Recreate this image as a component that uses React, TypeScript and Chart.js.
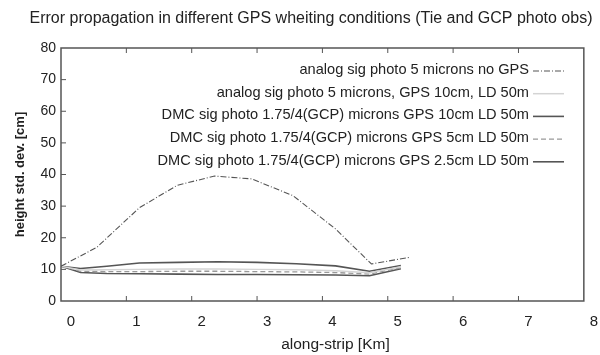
import React, { useEffect, useRef } from "react";
import { Chart, registerables } from "chart.js";

Chart.register(...registerables);

const TITLE = "Error propagation in different GPS wheiting conditions (Tie and GCP photo obs)";
const X_TITLE = "along-strip [Km]";
const Y_TITLE = "height std. dev. [cm]";

const X_MIN = 0;
const X_MAX = 8;
const Y_MIN = 0;
const Y_MAX = 80;

const LABELS = [
  "analog sig photo 5 microns no GPS",
  "analog sig photo 5 microns, GPS 10cm, LD 50m",
  "DMC sig photo 1.75/4(GCP) microns GPS 10cm LD 50m",
  "DMC sig photo 1.75/4(GCP) microns GPS 5cm LD 50m",
  "DMC sig photo 1.75/4(GCP) microns GPS 2.5cm LD 50m",
];

const mainX = [0, 0.55, 1.2, 1.78, 2.35, 2.92, 3.55, 4.2, 4.75, 5.33];
const noGps = [11, 17, 29.5, 36.6, 39.5, 38.6, 33.3, 22.8, 11.7, 13.8];

const lowX = [0, 0.3, 0.7, 1.2, 1.8, 2.4, 3.0, 3.6, 4.2, 4.72, 5.2];
const analogGps10 = [11, 9.8, 9.9, 10.0, 10.1, 10.1, 10.0, 9.9, 9.6, 8.9, 10.8];
const dmcGps10 = [11, 10.3, 11.0, 12.0, 12.2, 12.4, 12.2, 11.8, 11.1, 9.4, 11.2];
const dmcGps5 = [11, 9.4, 9.3, 9.3, 9.4, 9.4, 9.3, 9.2, 9.0, 8.5, 10.5];
const dmcGps25 = [11, 9.0, 8.7, 8.6, 8.5, 8.4, 8.4, 8.3, 8.2, 8.0, 10.2];

const FONT = '"Liberation Sans", Arial, sans-serif';

const pts = (xs: number[], ys: number[]) => xs.map((x, i) => ({ x, y: ys[i] }));

const decor = {
  id: "decor",
  afterDraw(chart: any) {
    const { ctx, chartArea: a, scales } = chart;
    const xs = scales.x;
    const ys = scales.y;
    ctx.save();
    const line = (x1: number, y1: number, x2: number, y2: number) => {
      ctx.beginPath();
      ctx.moveTo(x1, y1);
      ctx.lineTo(x2, y2);
      ctx.stroke();
    };
    ctx.strokeStyle = "#555";
    ctx.lineWidth = 1.5;
    ctx.setLineDash([]);
    ctx.strokeRect(a.left, a.top, a.right - a.left, a.bottom - a.top);
    ctx.lineWidth = 1;
    xs.ticks.forEach((_t: any, i: number) => {
      if (i === 0 || i === xs.ticks.length - 1) return;
      const px = xs.getPixelForTick(i);
      line(px, a.bottom, px, a.bottom - 5);
      line(px, a.top, px, a.top + 5);
    });
    ys.ticks.forEach((_t: any, i: number) => {
      if (i === 0 || i === ys.ticks.length - 1) return;
      const py = ys.getPixelForTick(i);
      line(a.left, py, a.left + 5, py);
    });

    ctx.fillStyle = "#222";
    ctx.textBaseline = "middle";
    ctx.textAlign = "center";
    ctx.font = `16px ${FONT}`;
    ctx.fillText(TITLE, 311, 19);
    ctx.font = `15.5px ${FONT}`;
    ctx.fillText(X_TITLE, xs.getPixelForValue(4) + 13, 345);

    ctx.textAlign = "right";
    ctx.font = `14.6px ${FONT}`;
    chart.data.datasets.forEach((ds: any, i: number) => {
      const y = 70 + i * 22.7;
      ctx.fillStyle = "#222";
      ctx.fillText(ds.label, 529, y);
      ctx.strokeStyle = ds.borderColor;
      ctx.lineWidth = ds.borderWidth;
      ctx.setLineDash(ds.borderDash || []);
      line(533, y + 1, 564, y + 1);
    });
    ctx.restore();
  },
};

export default function App() {
  const ref = useRef<HTMLCanvasElement | null>(null);
  useEffect(() => {
    document.body.style.margin = "0";
    const canvas = ref.current;
    if (!canvas) return;
    const chart = new Chart(canvas, {
      type: "line",
      data: {
        datasets: [
          {
            label: LABELS[0],
            data: pts(mainX, noGps),
            borderColor: "#555",
            borderWidth: 1.1,
            borderDash: [6, 2, 1, 2],
          },
          {
            label: LABELS[1],
            data: pts(lowX, analogGps10),
            borderColor: "#d4d4d4",
            borderWidth: 1.5,
          },
          {
            label: LABELS[2],
            data: pts(lowX, dmcGps10),
            borderColor: "#555",
            borderWidth: 1.6,
          },
          {
            label: LABELS[3],
            data: pts(lowX, dmcGps5),
            borderColor: "#999",
            borderWidth: 1.3,
            borderDash: [5, 3],
          },
          {
            label: LABELS[4],
            data: pts(lowX, dmcGps25),
            borderColor: "#555",
            borderWidth: 1.6,
          },
        ] as any,
      },
      options: {
        animation: false,
        responsive: false,
        devicePixelRatio: 1,
        elements: { point: { radius: 0 }, line: { tension: 0 } },
        layout: { padding: { left: 0, top: 48, right: 15, bottom: 0 } },
        plugins: {
          legend: { display: false },
          title: { display: false },
          tooltip: { enabled: false },
        },
        scales: {
          x: {
            type: "linear",
            min: X_MIN,
            max: X_MAX,
            grid: { display: false, drawTicks: false },
            border: { display: false },
            ticks: {
              stepSize: 1,
              padding: 12,
              labelOffset: 10,
              color: "#222",
              font: { family: FONT, size: 15 },
            },
            afterFit: (s: any) => {
              s.height = 54;
            },
          },
          y: {
            type: "linear",
            min: Y_MIN,
            max: Y_MAX,
            grid: { display: false, drawTicks: false },
            border: { display: false },
            ticks: {
              stepSize: 10,
              padding: 5,
              color: "#222",
              font: { family: FONT, size: 14 },
            },
            title: {
              display: true,
              text: Y_TITLE,
              color: "#222",
              padding: { top: 13, bottom: 0 },
              font: { family: FONT, size: 13, weight: "bold" },
            },
            afterFit: (s: any) => {
              s.width = 61;
            },
          },
        },
      } as any,
      plugins: [decor],
    });
    return () => chart.destroy();
  }, []);
  return (
    <div style={{ width: 600, height: 355, background: "#fff" }}>
      <canvas ref={ref} width={600} height={355} />
    </div>
  );
}
